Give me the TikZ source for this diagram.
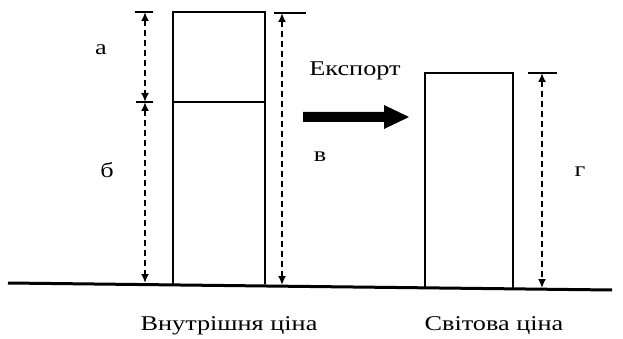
\documentclass[tikz,border=0pt]{standalone}
\usepackage{fontspec}
\setmainfont{Liberation Serif}
\newfontfamily\lblfont[FakeStretch=1.25]{Liberation Serif}
\usetikzlibrary{arrows.meta}
\begin{document}
\begin{tikzpicture}[x=1pt,y=-1pt,
  bar/.style={draw=black,line width=2.2pt},
  dim/.style={draw=black,line width=1.8pt,dash pattern=on 6pt off 4pt,{Latex[length=9pt,width=8pt]}-{Latex[length=9pt,width=8pt]}},
  tick/.style={draw=black,line width=1.5pt},
  lbl/.style={font=\lblfont\fontsize{21}{24}\selectfont,inner sep=0pt}]
\useasboundingbox (0,0) rectangle (623,339);
% ground
\coordinate (g1) at (8,283);
\coordinate (g2) at (612,290);
\draw[line width=3pt] (g1) -- (g2);
% box 1
\coordinate (b1bl) at (173,284);
\coordinate (b1tr) at (265,12);
\draw[bar] (b1bl) |- (b1tr) -- (265,284);
\coordinate (d1l) at (173,102);
\coordinate (d1r) at (265,102);
\draw[line width=1.5pt] (d1l) -- (d1r);
% box 2
\coordinate (b2bl) at (425,288);
\coordinate (b2tr) at (513,73);
\draw[bar] (b2bl) |- (b2tr) -- (513,288);
% dimension a and б
\coordinate (at) at (145,12);
\coordinate (am) at (145,102);
\coordinate (ab) at (145,283);
\draw[tick] (135,12) -- (153,12);
\draw[tick] (136,102) -- (153,102);
\draw[dim] (at) -- (am);
\draw[dim] (am) -- (ab);
% dimension в
\coordinate (vt) at (282,13);
\coordinate (vb) at (282,285);
\draw[tick] (274,13) -- (306,13);
\draw[dim] (vt) -- (vb);
% dimension г
\coordinate (gt) at (542,73);
\coordinate (gb) at (542,288);
\draw[tick] (528,73) -- (557,73);
\draw[dim] (gt) -- (gb);
% export arrow
\fill (303,112) -- (384,112) -- (384,105) -- (409,117) -- (384,129) -- (384,122) -- (303,122) -- cycle;
% labels
\node[lbl] (la) at (101,50) {а};
\node[lbl] (lb) at (107,170) {б};
\node[lbl] (lv) at (320,157) {в};
\node[lbl] (lg) at (580,172) {г};
\node[lbl] (exp) at (355,71) {Експорт};
\node[lbl] (dom) at (229,326) {Внутрішня ціна};
\node[lbl] (wor) at (494,326) {Світова ціна};
\end{tikzpicture}
\end{document}
